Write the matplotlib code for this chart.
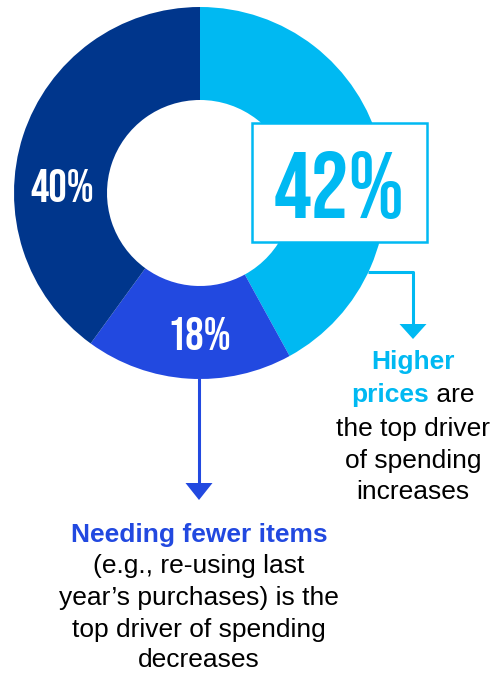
import matplotlib
matplotlib.use("Agg")
import matplotlib.pyplot as plt
from matplotlib.patches import Rectangle, Polygon

# ---- data ----
categories = ["Higher prices", "Needing fewer items", "Other"]
shares = [42, 18, 40]
labels = ["42%", "18%", "40%"]
colors = ["#00B9F2", "#2249E0", "#00368C"]

W, H = 494, 674
fig = plt.figure(figsize=(W / 100, H / 100), dpi=100)
ax = fig.add_axes([0, 0, 1, 1])
ax.axis("off")

def Y(py):
    return H - py

cx, cy, R, ring = 200, 193, 186, 93
ax.pie(shares, colors=colors, startangle=90, counterclock=False,
       center=(cx, Y(cy)), radius=R,
       wedgeprops=dict(width=ring, linewidth=0))
ax.set_xlim(0, W)
ax.set_ylim(0, H)
ax.set_aspect("equal")

cond = ["Bebas Neue", "Oswald", "DejaVu Sans"]
sans = ["Liberation Sans", "Arial", "DejaVu Sans"]

# percent labels inside ring
ax.text(62, Y(186), labels[2], color="white", fontsize=33,
        family=cond, ha="center", va="center")
ax.text(199, Y(333), labels[1], color="white", fontsize=33,
        family=cond, ha="center", va="center")

# box with 42%
ax.add_patch(Rectangle((252, Y(242)), 175, 119, facecolor="white",
                       edgecolor=colors[0], linewidth=1.8, zorder=3))
ax.text(339, Y(185), labels[0], color=colors[0], fontsize=68,
        family=cond, ha="center", va="center", zorder=4)

# connector for 42%
ax.plot([368, 413, 413], [Y(272), Y(272), Y(326)], color=colors[0],
        linewidth=2.2, solid_capstyle="butt", zorder=2)
ax.add_patch(Polygon([(399.5, Y(324)), (426.5, Y(324)), (413, Y(339))],
                     closed=True, facecolor=colors[0], edgecolor="none"))

# connector for 18%
ax.plot([199, 199], [Y(378), Y(485)], color=colors[1], linewidth=2.2,
        solid_capstyle="butt", zorder=2)
ax.add_patch(Polygon([(185.5, Y(483)), (212.5, Y(483)), (199, Y(500))],
                     closed=True, facecolor=colors[1], edgecolor="none"))

fs = 19
# right annotation
ax.text(413, Y(369), "Higher", color=colors[0], fontsize=fs, fontweight="bold",
        family=sans, ha="center", va="baseline")
fig.canvas.draw()
renderer = fig.canvas.get_renderer()
t1 = ax.text(0, Y(402), "prices", color=colors[0], fontsize=fs, fontweight="bold",
             family=sans, ha="left", va="baseline")
t2 = ax.text(0, Y(402), " are", color="black", fontsize=fs,
             family=sans, ha="left", va="baseline")
w1 = t1.get_window_extent(renderer).width
w2 = t2.get_window_extent(renderer).width
x0 = 413 - (w1 + w2) / 2
t1.set_x(x0)
t2.set_x(x0 + w1)
for txt, by in [("the top driver", 436), ("of spending", 468), ("increases", 499)]:
    ax.text(413, Y(by), txt, color="black", fontsize=fs, family=sans,
            ha="center", va="baseline")

# bottom annotation
ax.text(199, Y(542), "Needing fewer items", color=colors[1], fontsize=fs,
        fontweight="bold", family=sans, ha="center", va="baseline")
for txt, by in [("(e.g., re-using last", 573), ("year\u2019s purchases) is the", 605),
                ("top driver of spending", 637), ("decreases", 667)]:
    ax.text(199, Y(by), txt, color="black", fontsize=fs, family=sans,
            ha="center", va="baseline")

fig.savefig("out.png", dpi=100, facecolor="white")
